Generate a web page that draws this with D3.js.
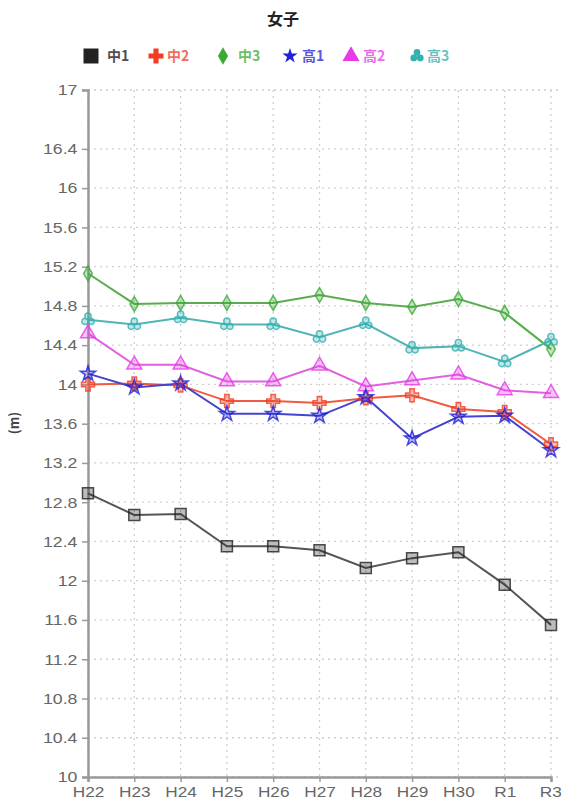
<!DOCTYPE html>
<html><head><meta charset="utf-8">
<script src="https://cdn.jsdelivr.net/npm/d3@7"></script>
<style>
html,body{margin:0;padding:0;background:#fff;}
text{font-family:"Noto Sans CJK JP","Noto Sans",sans-serif;}
</style></head>
<body><svg id="c" width="561" height="802"></svg>
<script>
const title = "女子";
const categories = ["H22","H23","H24","H25","H26","H27","H28","H29","H30","R1","R3"];
const seriesNames = ["中1","中2","中3","高1","高2","高3"];
const seriesColors = ["#222222","#f03c22","#3aaa35","#2020d8","#e83ae8","#33b0b0"];
const lineColors = ["#555555","#f05a40","#5aac50","#4444cc","#e060e0","#50b4b4"];
const v_chu1 = [12.89,12.67,12.68,12.35,12.35,12.31,12.13,12.23,12.29,11.96,11.55];
const v_chu2 = [14.00,14.01,13.99,13.83,13.83,13.81,13.86,13.89,13.75,13.72,13.39];
const v_chu3 = [15.13,14.82,14.83,14.83,14.83,14.91,14.83,14.79,14.87,14.73,14.36];
const v_ko1  = [14.11,13.97,14.01,13.70,13.70,13.68,13.87,13.45,13.67,13.68,13.33];
const v_ko2  = [14.52,14.20,14.20,14.03,14.03,14.19,13.98,14.04,14.10,13.94,13.91];
const v_ko3  = [14.66,14.61,14.68,14.61,14.61,14.48,14.62,14.37,14.39,14.23,14.45];
const yTicks = [10,10.4,10.8,11.2,11.6,12,12.4,12.8,13.2,13.6,14,14.4,14.8,15.2,15.6,16,16.4,17];
const yLabel = "(m)";

const seriesValues = [v_chu1,v_chu2,v_chu3,v_ko1,v_ko2,v_ko3];

const svg = d3.select("#c");
const L = 88, R = 551, T = 90, B = 777;
const x = d3.scalePoint().domain(categories).range([L, R]);
const y = d3.scaleLinear().domain([10, 17]).range([B, T]);

svg.append("text").attr("x", 283).attr("y", 25).attr("text-anchor", "middle")
  .attr("font-size", 16).attr("font-weight", "bold").attr("fill", "#222").text(title);

function wye3(r){
  let p = "";
  for (let k = 0; k < 3; k++) {
    const a = Math.PI/2 + k*2*Math.PI/3;
    const cx = Math.cos(a)*r*0.5, cy = -Math.sin(a)*r*0.5;
    const rr = r*0.45;
    p += `M${cx+rr},${cy}A${rr},${rr} 0 1,1 ${cx-rr},${cy}A${rr},${rr} 0 1,1 ${cx+rr},${cy}Z`;
  }
  return p;
}
function symPath(i, s){
  switch(i){
    case 0: return d3.symbol(d3.symbolSquare, s*s)();
    case 1: { const a=s/2, b=s*0.17; return `M${-a},${-b}H${-b}V${-a}H${b}V${-b}H${a}V${b}H${b}V${a}H${-b}V${b}H${-a}Z`; }
    case 2: { const h=s*0.62, w=s*0.36; return `M0,${-h}L${w},0L0,${h}L${-w},0Z`; }
    case 3: return d3.symbol(d3.symbolStar, s*s*0.32)();
    case 4: return d3.symbol(d3.symbolTriangle, s*s*0.43)();
    case 5: return wye3(s*0.5);
  }
}

const legendX = [[91,107],[156,167],[223,238],[290,302],[351,363],[417,427]];
const legendY = 56;
const legendSize = [15,15,14,15,17,15];
seriesNames.forEach((n, i) => {
  const g = svg.append("g");
  g.append("path").attr("d", symPath(i, legendSize[i]))
    .attr("transform", `translate(${legendX[i][0]},${legendY})`)
    .attr("fill", seriesColors[i]);
  g.append("text").attr("x", legendX[i][1]).attr("y", legendY + 5)
    .attr("font-size", 14).attr("font-weight", "bold").attr("fill", seriesColors[i]).attr("opacity", i===0?0.8:0.75)
    .text(n);
});

const grid = svg.append("g");
yTicks.forEach(t => {
  grid.append("line").attr("x1", L).attr("x2", 561).attr("y1", y(t)).attr("y2", y(t))
    .attr("stroke", "#cfcfcf").attr("stroke-width", 1.3).attr("stroke-dasharray", "2,4");
});
categories.forEach(c => {
  grid.append("line").attr("x1", x(c)).attr("x2", x(c)).attr("y1", T).attr("y2", B)
    .attr("stroke", "#cfcfcf").attr("stroke-width", 1.3).attr("stroke-dasharray", "2,4");
});

const yAxis = d3.axisLeft(y).tickValues(yTicks).tickSize(6).tickPadding(3)
  .tickFormat(d => d3.format("~g")(d));
const gy = svg.append("g").attr("transform", `translate(${L},0)`).call(yAxis);
gy.select(".domain").attr("stroke", "#999").attr("stroke-width", 2.5);
gy.selectAll(".tick line").attr("stroke", "#999").attr("stroke-width", 1.5);
gy.selectAll(".tick text").attr("font-size", 15).attr("fill", "#666")
  .attr("transform", "scale(1.18,1)")
  .style("font-family", "'Liberation Sans', Arial, sans-serif");

const xAxis = d3.axisBottom(x).tickSize(5).tickPadding(4);
const gx = svg.append("g").attr("transform", `translate(0,${B})`).call(xAxis);
gx.select(".domain").attr("stroke", "#999").attr("stroke-width", 2.5);
gx.selectAll(".tick line").attr("stroke", "#999").attr("stroke-width", 1.5);
gx.selectAll(".tick text").attr("font-size", 15).attr("fill", "#666")
  .attr("transform", "scale(1.15,1)")
  .style("font-family", "'Liberation Sans', Arial, sans-serif");
gx.selectAll(".tick text").filter(d => d === categories[categories.length-1])
  .attr("text-anchor", "end").attr("x", 9);

svg.append("text").attr("transform", `translate(19,423) rotate(-90)`)
  .attr("text-anchor", "middle").attr("font-size", 13).attr("font-weight", "bold").attr("fill", "#444").text(yLabel);

const line = d3.line().x((d, j) => x(categories[j])).y(d => y(d));
const order = [0,1,2,5,4,3];
order.forEach(i => {
  svg.append("path").datum(seriesValues[i]).attr("d", line)
    .attr("fill", "none").attr("stroke", lineColors[i]).attr("stroke-width", 2);
});
const markSize = [11,13,12,15,15,14];
order.forEach(i => {
  svg.append("g").selectAll("path").data(seriesValues[i]).join("path")
    .attr("d", symPath(i, markSize[i]))
    .attr("transform", (d, j) => `translate(${x(categories[j])},${y(d)})`)
    .attr("fill", seriesColors[i]).attr("fill-opacity", 0.3)
    .attr("stroke", seriesColors[i]).attr("stroke-opacity", 0.8).attr("stroke-width", 1.5);
});
</script></body></html>
